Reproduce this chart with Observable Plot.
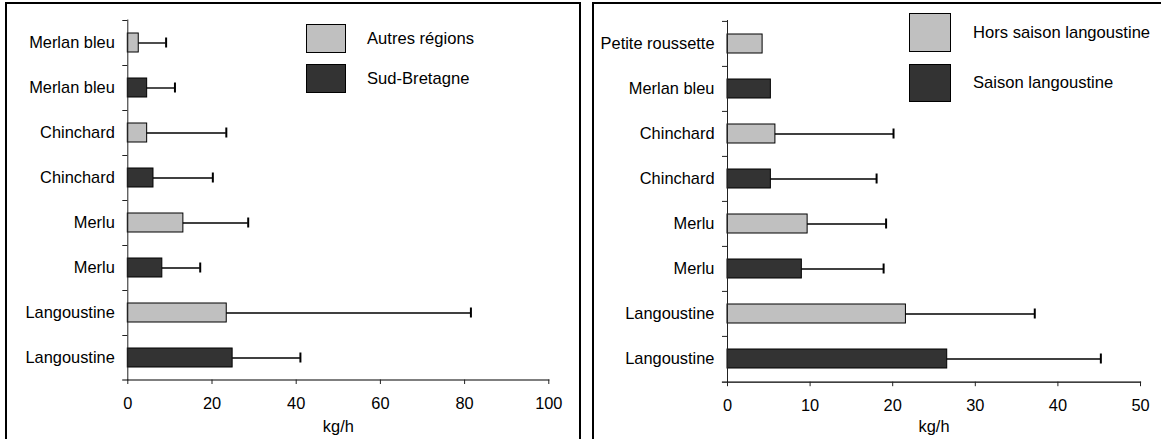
<!DOCTYPE html>
<html>
<head>
<meta charset="utf-8">
<script src="https://cdn.jsdelivr.net/npm/d3@7"></script>
<script src="https://cdn.jsdelivr.net/npm/@observablehq/plot@0.6"></script>
<style>
  html, body { margin: 0; padding: 0; background: #fff; }
  #root { position: relative; width: 1161px; height: 439px; overflow: hidden; background: #fff;
          font-family: "Liberation Sans", Arial, sans-serif; color: #000; }
  .panel { position: absolute; border: 2px solid #000; box-sizing: border-box; }
  .chart { position: absolute; top: 0; }
  .sw { position: absolute; box-sizing: border-box; border: 1.5px solid #000; }
  .lt { position: absolute; font-size: 16.6px; line-height: 20px; white-space: nowrap; }
</style>
</head>
<body>
<div id="root">
  <div class="panel" style="left:5px; top:2px; width:576px; height:460px;"></div>
  <div class="panel" style="left:592px; top:2px; width:600px; height:460px;"></div>
  <div class="chart" id="left" style="left:0px;"></div>
  <div class="chart" id="right" style="left:580px;"></div>
  <div id="legendL"></div>
  <div id="legendR"></div>
</div>
<script>
// ---------- data ----------
const leftCategories = ["Merlan bleu", "Merlan bleu", "Chinchard", "Chinchard", "Merlu", "Merlu", "Langoustine", "Langoustine"];
const leftSeriesNames = ["Autres régions", "Sud-Bretagne"];
const leftSeries = ["Autres régions", "Sud-Bretagne", "Autres régions", "Sud-Bretagne", "Autres régions", "Sud-Bretagne", "Autres régions", "Sud-Bretagne"];
const leftValues = [2.6, 4.6, 4.6, 6.1, 13.2, 8.2, 23.5, 24.9];
const leftErrors = [6.5, 6.6, 18.8, 14.1, 15.4, 9.0, 58.0, 16.1];
const leftTicks = [0, 20, 40, 60, 80, 100];

const rightCategories = ["Petite roussette", "Merlan bleu", "Chinchard", "Chinchard", "Merlu", "Merlu", "Langoustine", "Langoustine"];
const rightSeriesNames = ["Hors saison langoustine", "Saison langoustine"];
const rightSeries = ["Hors saison langoustine", "Saison langoustine", "Hors saison langoustine", "Saison langoustine", "Hors saison langoustine", "Saison langoustine", "Hors saison langoustine", "Saison langoustine"];
const rightValues = [4.25, 5.25, 5.8, 5.25, 9.7, 9.0, 21.6, 26.6];
const rightErrors = [null, null, 14.3, 12.8, 9.5, 9.9, 15.6, 18.6];
const rightTicks = [0, 10, 20, 30, 40, 50];

const seriesColors = ["#c0c0c0", "#333333"];
const axisLabel = "kg/h";

// ---------- chart builder ----------
function makeChart(cfg) {
  const rows = cfg.categories.map((c, i) => ({
    id: i, cat: c, series: cfg.series[i], value: cfg.values[i], err: cfg.errors[i]
  }));
  const errRows = rows.filter(d => d.err != null);
  const ids = rows.map(d => d.id);
  const innerH = cfg.height - cfg.marginTop - cfg.marginBottom;
  const step = innerH / ids.length;
  return Plot.plot({
    width: cfg.width,
    height: cfg.height,
    marginLeft: cfg.marginLeft,
    marginRight: cfg.marginRight,
    marginTop: cfg.marginTop,
    marginBottom: cfg.marginBottom,
    style: { fontFamily: '"Liberation Sans", Arial, sans-serif', fontSize: "16.4px", background: "transparent", color: "#000", overflow: "visible" },
    x: { domain: [0, cfg.ticks[cfg.ticks.length - 1]], ticks: cfg.ticks },
    y: { domain: ids, paddingInner: 0.58, paddingOuter: 0.29 },
    color: { domain: cfg.seriesNames, range: seriesColors },
    marks: [
      Plot.barX(rows, { y: "id", x: "value", fill: "series", stroke: "#000", strokeWidth: 1 }),
      Plot.ruleY(errRows, { y: "id", x1: "value", x2: d => d.value + d.err, stroke: "#000", strokeWidth: 1.4 }),
      Plot.tickX(errRows, { y: "id", x: d => d.value + d.err, stroke: "#000", strokeWidth: 2, insetTop: 4.5, insetBottom: 4.5 }),
      Plot.ruleY(ids, { y: d => d, dy: -step / 2, x1: 0, x2: 0, insetLeft: -5, stroke: "#222", strokeWidth: 1 }),
      Plot.frame({ anchor: "left", stroke: "#222", strokeWidth: 1 }),
      Plot.frame({ anchor: "bottom", insetLeft: -5, stroke: "#000", strokeWidth: 1.2 }),
      Plot.axisY({ tickSize: 0, tickPadding: 13, tickFormat: i => cfg.categories[i], fontSize: 16.4, label: null }),
      Plot.axisX({ ticks: cfg.ticks, tickSize: 4.5, tickPadding: 12.5, fontSize: 16.4, stroke: "#222",
                   label: axisLabel, labelAnchor: "center", labelArrow: "none", labelOffset: cfg.labelOffset })
    ]
  });
}

document.getElementById("left").appendChild(makeChart({
  categories: leftCategories, series: leftSeries, seriesNames: leftSeriesNames,
  values: leftValues, errors: leftErrors, ticks: leftTicks,
  width: 580, height: 439, marginLeft: 127.3, marginRight: 31.7, marginTop: 19.5, marginBottom: 59.5,
  labelOffset: 51.5
}));
document.getElementById("right").appendChild(makeChart({
  categories: rightCategories, series: rightSeries, seriesNames: rightSeriesNames,
  values: rightValues, errors: rightErrors, ticks: rightTicks,
  width: 581, height: 439, marginLeft: 147, marginRight: 21, marginTop: 20, marginBottom: 57.3,
  labelOffset: 49.5
}));

// ---------- legends ----------
function legend(el, names, boxes, textX) {
  const root = document.getElementById(el);
  names.forEach((n, i) => {
    const b = boxes[i];
    const sw = document.createElement("div");
    sw.className = "sw";
    Object.assign(sw.style, { left: b[0] + "px", top: b[1] + "px", width: b[2] + "px", height: b[3] + "px", background: seriesColors[i] });
    root.appendChild(sw);
    const t = document.createElement("div");
    t.className = "lt";
    t.textContent = n;
    Object.assign(t.style, { left: textX + "px", top: (b[1] + b[3] / 2 - 10) + "px" });
    root.appendChild(t);
  });
}
legend("legendL", leftSeriesNames, [[306, 24, 40, 29], [306, 64, 40, 29]], 367);
legend("legendR", rightSeriesNames, [[909, 13, 42, 39], [909, 64, 42, 38]], 973);
</script>
</body>
</html>
